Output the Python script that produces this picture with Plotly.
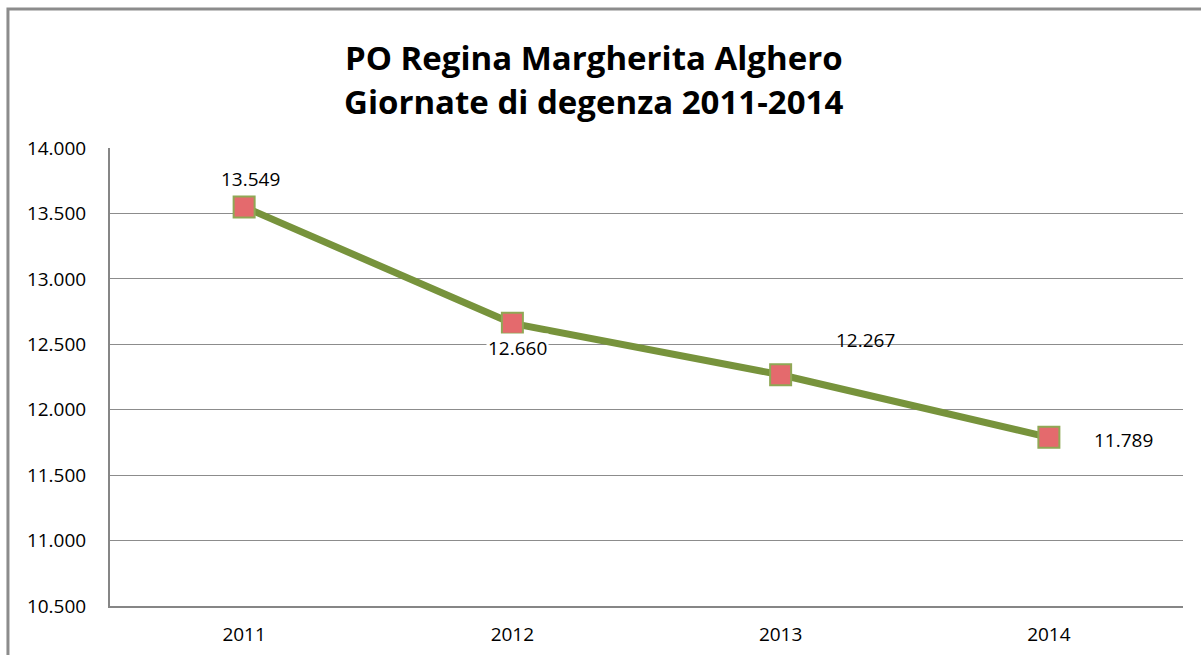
import plotly.graph_objects as go

years = ["2011", "2012", "2013", "2014"]
giornate = [13549, 12660, 12267, 11789]
y_ticks = [10500, 11000, 11500, 12000, 12500, 13000, 13500, 14000]
title_lines = ["PO Regina Margherita Alghero", "Giornate di degenza 2011-2014"]

# label offsets (pixels) relative to each point
label_dx = [6, 5, 85, 75]
label_dy = [28, -25, 35, -3]

def fmt(v):
    return f"{v:,}".replace(",", ".")

fig = go.Figure()
fig.add_trace(go.Scatter(
    x=years, y=giornate, mode="lines+markers",
    line=dict(color="#77933C", width=7),
    marker=dict(symbol="square", size=21, color="#E46A6D",
                line=dict(color="#8FA855", width=2)),
    showlegend=False, hoverinfo="skip",
))

for i, (y, dx, dy) in enumerate(zip(giornate, label_dx, label_dy)):
    fig.add_annotation(x=i, y=y, text=fmt(y), showarrow=False,
                       xshift=dx, yshift=dy, xanchor="center", yanchor="middle",
                       font=dict(size=19, color="#000000", family="Open Sans"),
                       bgcolor="white" if i == 1 else "rgba(0,0,0,0)")

# title lines
for line, ypos in zip(title_lines, [1.197, 1.101]):
    fig.add_annotation(xref="paper", yref="paper", x=0.451, y=ypos,
                       text=f"<b>{line}</b>", showarrow=False,
                       xanchor="center", yanchor="middle",
                       font=dict(family="Open Sans", size=33, color="#000000"))

# outer chart border
fig.add_shape(type="rect", xref="paper", yref="paper",
              x0=-0.0951, x1=1.2, y0=-0.3, y1=1.3035,
              line=dict(color="#8C8C8C", width=3), layer="below")

fig.update_layout(
    width=1201, height=655,
    margin=dict(l=110, r=18, t=148, b=49, autoexpand=False),
    paper_bgcolor="white", plot_bgcolor="white",
    xaxis=dict(type="category", range=[-0.5, 3.5], showgrid=False, automargin=False,
               showline=True, linecolor="#868686", linewidth=2,
               ticks="", tickfont=dict(size=19, family="Open Sans", color="#000"),
               ticklabelstandoff=10, fixedrange=True),
    yaxis=dict(range=[10500, 14000], tickvals=y_ticks, automargin=False,
               ticktext=[fmt(v) for v in y_ticks],
               showgrid=True, gridcolor="#8C8C8C", gridwidth=1,
               showline=True, linecolor="#868686", linewidth=2,
               zeroline=False, ticks="",
               tickfont=dict(size=19, family="Open Sans", color="#000"),
               ticklabelstandoff=18, fixedrange=True),
)

fig.write_html("out.html", config={"displayModeBar": False},
               post_script="document.body.style.margin='0';")
